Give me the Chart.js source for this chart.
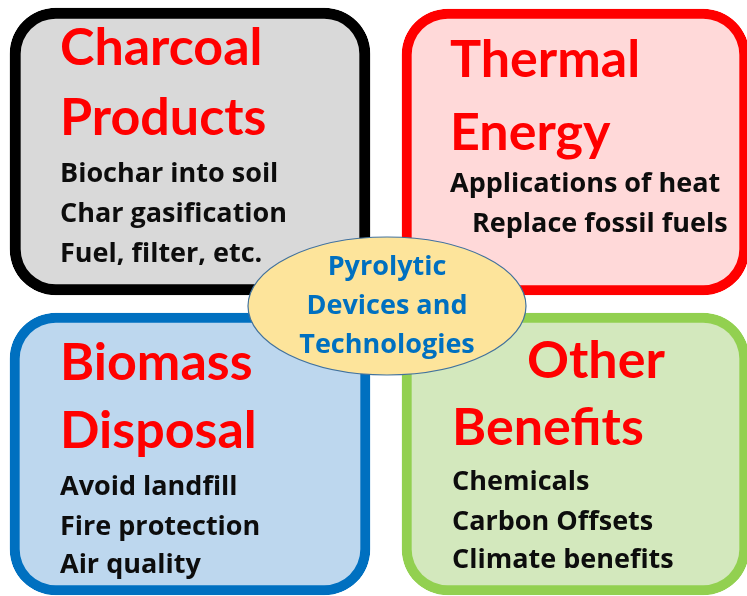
<!DOCTYPE html>
<html lang="en">
<head>
    <meta charset="UTF-8">
    <title>Pyrolytic Devices and Technologies</title>
    <script src="https://cdn.jsdelivr.net/npm/chart.js"></script>
    <style>
        body {
            margin: 0;
            background-color: #ffffff;
        }
        canvas {
            display: block;
        }
    </style>
</head>
<body>
    <canvas id="chart" width="747" height="596"></canvas>

    <script>
        // panel contents
        const panelTitles = [
            ['Charcoal', 'Products'],
            ['Thermal', 'Energy'],
            ['Biomass', 'Disposal'],
            ['Other', 'Benefits']
        ];
        const panelItems = [
            ['Biochar into soil', 'Char gasification', 'Fuel, filter, etc.'],
            ['Applications of heat', 'Replace fossil fuels'],
            ['Avoid landfill', 'Fire protection', 'Air quality'],
            ['Chemicals', 'Carbon Offsets', 'Climate benefits']
        ];
        const centerLines = ['Pyrolytic', 'Devices and', 'Technologies'];

        // layout, in scale units (page is 747 x 596 units)
        const panelBoxes = [
            { x: [10, 370], y: [8, 295] },
            { x: [402, 749], y: [9, 295] },
            { x: [10, 370], y: [313, 595] },
            { x: [402, 749], y: [313, 595] }
        ];
        const titleLines = [
            [{ x: 60, y: 65 }, { x: 60, y: 135 }],
            [{ x: 450, y: 77 }, { x: 450, y: 150 }],
            [{ x: 60, y: 380 }, { x: 60, y: 448 }],
            [{ x: 527, y: 378 }, { x: 452, y: 445 }]
        ];
        const itemLines = [
            [{ x: 60, y: 182 }, { x: 60, y: 222 }, { x: 60, y: 262 }],
            [{ x: 450, y: 192 }, { x: 472, y: 232 }],
            [{ x: 60, y: 495 }, { x: 60, y: 535 }, { x: 60, y: 573 }],
            [{ x: 452, y: 490 }, { x: 452, y: 530 }, { x: 452, y: 568 }]
        ];
        const ellipse = { cx: 387, cy: 306, rx: 139, ry: 69 };
        const centerBaselines = [275, 314, 353];

        const borderColors = ['#000000', '#ff0000', '#0070c0', '#92d050'];
        const fillColors = ['#d9d9d9', '#ffd9d9', '#bdd7ee', '#d3e8bd'];
        const borderWidths = [11, 10, 10, 10];

        const titleFont = 'bold 52px Lato, "Open Sans", sans-serif';
        const itemFont = 'bold 27px "Open Sans", Lato, sans-serif';
        const centerFont = 'bold 27px "Open Sans", Lato, sans-serif';

        const datasets = panelBoxes.map((b, i) => ({
            label: panelTitles[i].join(' '),
            data: [{ x: b.x, y: (b.y[0] + b.y[1]) / 2 }],
            backgroundColor: fillColors[i],
            borderColor: borderColors[i],
            borderWidth: borderWidths[i],
            borderSkipped: false,
            borderRadius: 46,
            barThickness: b.y[1] - b.y[0]
        }));

        const overlay = {
            id: 'overlay',
            afterDatasetsDraw(chart) {
                const ctx = chart.ctx;
                const xs = chart.scales.x;
                const ys = chart.scales.y;
                const px = v => xs.getPixelForValue(v);
                const py = v => ys.getPixelForValue(v);
                ctx.save();
                ctx.textBaseline = 'alphabetic';
                ctx.textAlign = 'left';

                panelTitles.forEach((lines, i) => {
                    ctx.fillStyle = '#ff0000';
                    ctx.font = titleFont;
                    lines.forEach((t, j) => {
                        const p = titleLines[i][j];
                        ctx.fillText(t, px(p.x), py(p.y));
                    });
                    ctx.fillStyle = '#0d0d0d';
                    ctx.font = itemFont;
                    panelItems[i].forEach((t, j) => {
                        const p = itemLines[i][j];
                        ctx.fillText(t, px(p.x), py(p.y));
                    });
                });

                // center ellipse
                const cx = px(ellipse.cx), cy = py(ellipse.cy);
                const rx = px(ellipse.cx + ellipse.rx) - cx;
                const ry = Math.abs(py(ellipse.cy + ellipse.ry) - cy);
                ctx.beginPath();
                ctx.ellipse(cx, cy, rx, ry, 0, 0, Math.PI * 2);
                ctx.fillStyle = '#fde49b';
                ctx.fill();
                ctx.lineWidth = 1.2;
                ctx.strokeStyle = '#41719c';
                ctx.stroke();

                ctx.fillStyle = '#0070c0';
                ctx.textAlign = 'center';
                ctx.font = centerFont;
                centerLines.forEach((t, j) => {
                    ctx.fillText(t, cx, py(centerBaselines[j]));
                });
                ctx.restore();
            }
        };

        const ctx = document.getElementById('chart').getContext('2d');
        const chart = new Chart(ctx, {
            type: 'bar',
            data: { datasets: datasets },
            options: {
                indexAxis: 'y',
                responsive: false,
                animation: false,
                layout: { padding: 0 },
                datasets: { bar: { grouped: false } },
                scales: {
                    x: { type: 'linear', display: false, min: 0, max: 747 },
                    y: { type: 'linear', display: false, offset: false, min: 0, max: 596, reverse: true }
                },
                plugins: {
                    legend: { display: false },
                    tooltip: { enabled: false }
                }
            },
            plugins: [overlay]
        });
    </script>
</body>
</html>
